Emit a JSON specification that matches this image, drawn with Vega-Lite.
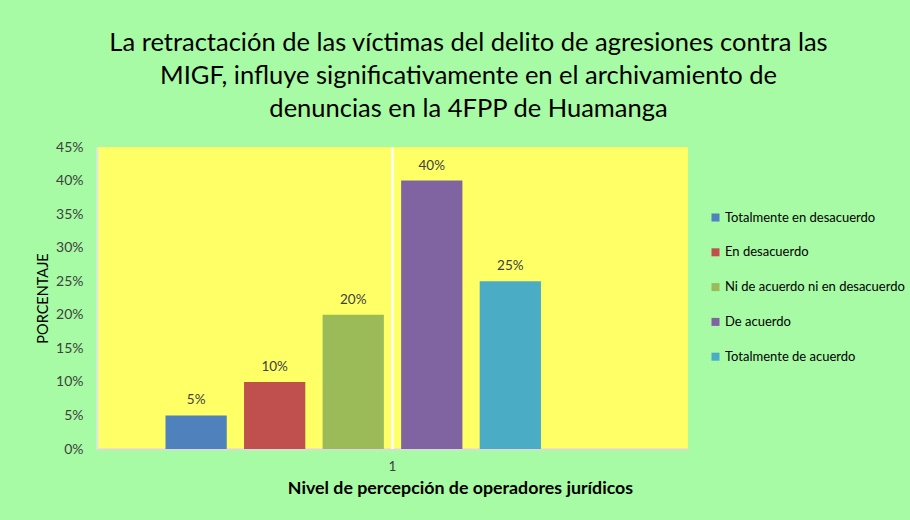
{
  "$schema": "https://vega.github.io/schema/vega-lite/v6.json",
  "width": 591,
  "height": 302,
  "autosize": {"type": "none"},
  "padding": {"left": 97, "top": 147, "right": 222, "bottom": 71},
  "background": "#A6FBA4",
  "title": {
    "text": ["La retractación de las víctimas del delito de agresiones contra las", "MIGF, influye significativamente en el archivamiento de", "denuncias en la 4FPP de Huamanga"],
    "font": "Lato",
    "fontSize": 25.5,
    "fontWeight": "normal",
    "color": "#000000",
    "lineHeight": 33,
    "anchor": "middle",
    "dx": 76,
    "offset": 18
  },
  "config": {
    "view": {"fill": "#FFFF66", "stroke": null},
    "font": "Lato"
  },
  "data": {
    "values": [
      {"nivel": "1", "serie": "Totalmente en desacuerdo", "valor": 0.05},
      {"nivel": "1", "serie": "En desacuerdo", "valor": 0.10},
      {"nivel": "1", "serie": "Ni de acuerdo ni en desacuerdo", "valor": 0.20},
      {"nivel": "1", "serie": "De acuerdo", "valor": 0.40},
      {"nivel": "1", "serie": "Totalmente de acuerdo", "valor": 0.25}
    ]
  },
  "encoding": {
    "x": {
      "field": "nivel",
      "type": "nominal",
      "scale": {"paddingInner": 0, "paddingOuter": 0.127},
      "axis": {
        "title": "Nivel de percepción de operadores jurídicos",
        "titleFont": "Lato",
        "titleFontSize": 17.8,
        "titleFontWeight": "bold",
        "titleColor": "#000000",
        "titleX": 363,
        "titlePadding": 7,
        "labelAngle": 0,
        "labelFontSize": 13.5,
        "labelColor": "#404040",
        "labelPadding": 10,
        "ticks": false,
        "domainColor": "#D9D9D9",
        "domainWidth": 2
      }
    },
    "y": {
      "field": "valor",
      "type": "quantitative",
      "scale": {"domain": [0, 0.45], "nice": false},
      "axis": {
        "title": "PORCENTAJE",
        "titleFont": "Lato",
        "titleFontSize": 14.5,
        "titleFontWeight": "normal",
        "titleColor": "#000000",
        "titlePadding": 5,
        "format": ".0%",
        "values": [0, 0.05, 0.1, 0.15, 0.2, 0.25, 0.3, 0.35, 0.4, 0.45],
        "labelOverlap": false,
        "labelFontSize": 14,
        "labelColor": "#404040",
        "labelPadding": 14,
        "ticks": false,
        "grid": false,
        "domainColor": "#E6E6E6",
        "domainWidth": 2
      }
    }
  },
  "layer": [
    {
      "mark": {"type": "rule", "color": "#FFFFFF", "strokeWidth": 1.5},
      "encoding": {
        "y": {"datum": 0},
        "y2": {"datum": 0.45}
      }
    },
    {
      "mark": {"type": "bar"},
      "encoding": {
        "xOffset": {
          "field": "serie",
          "type": "nominal",
          "scale": {
            "domain": ["Totalmente en desacuerdo", "En desacuerdo", "Ni de acuerdo ni en desacuerdo", "De acuerdo", "Totalmente de acuerdo", "zz"],
            "paddingInner": 0.22,
            "paddingOuter": 0.11
          }
        },
        "color": {
          "field": "serie",
          "type": "nominal",
          "scale": {
            "domain": ["Totalmente en desacuerdo", "En desacuerdo", "Ni de acuerdo ni en desacuerdo", "De acuerdo", "Totalmente de acuerdo"],
            "range": ["#4F81BD", "#C0504D", "#9BBB59", "#8064A2", "#4BACC6"]
          },
          "legend": {
            "title": null,
            "orient": "none",
            "legendX": 612,
            "legendY": 64,
            "symbolType": "square",
            "symbolSize": 64,
            "symbolStrokeWidth": 0,
            "labelFont": "Lato",
            "labelFontSize": 13,
            "labelLimit": 300,
            "labelColor": "#000000",
            "rowPadding": 20.8,
            "labelOffset": 3
          }
        }
      }
    },
    {
      "mark": {"type": "text", "baseline": "bottom", "dy": -8, "fontSize": 13.5, "color": "#404040", "font": "Lato"},
      "encoding": {
        "xOffset": {"field": "serie", "type": "nominal"},
        "text": {"field": "valor", "type": "quantitative", "format": ".0%"}
      }
    }
  ]
}
